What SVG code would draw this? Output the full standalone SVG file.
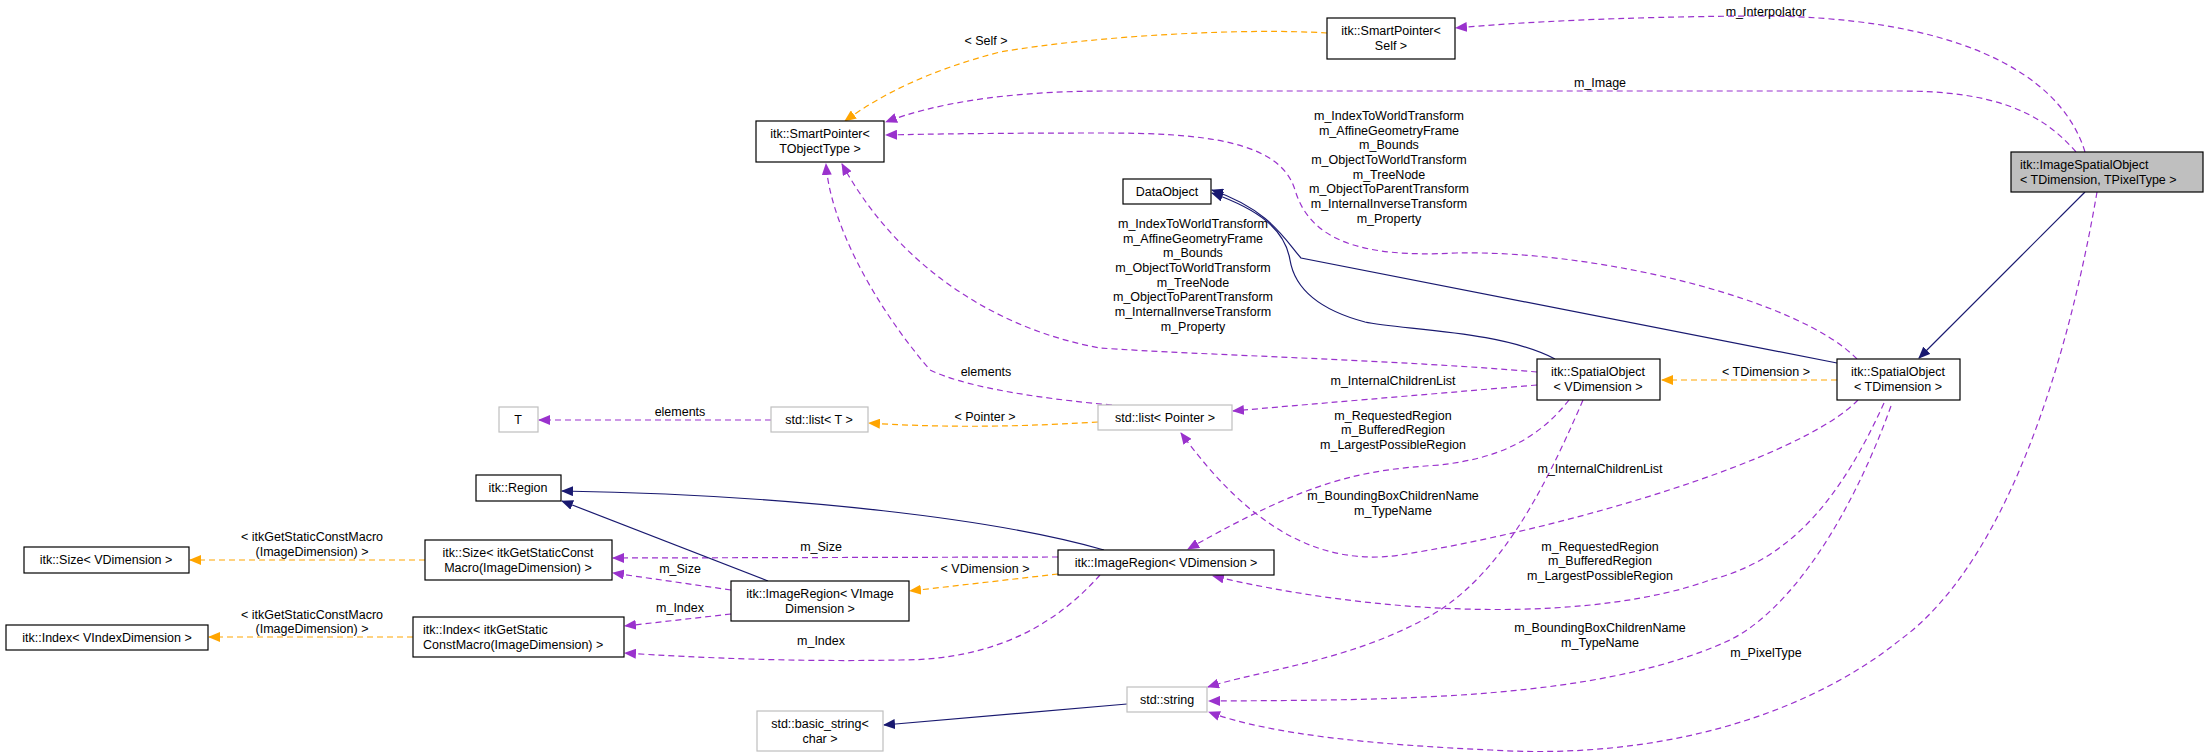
<svg xmlns="http://www.w3.org/2000/svg" width="2208" height="756" viewBox="0 0 2208 756">
<style>
text{font-family:"Liberation Sans",Arial,sans-serif;font-size:12.5px;fill:#000;dominant-baseline:central}
.c{text-anchor:middle}
.b{fill:#fff;stroke:#000;stroke-width:1.2}
.g{fill:#fff;stroke:#bfbfbf;stroke-width:1.2}
.p{fill:none;stroke:#9a32cd;stroke-width:1.2;stroke-dasharray:6,4;marker-end:url(#ap)}
.o{fill:none;stroke:#ffa500;stroke-width:1.2;stroke-dasharray:6,4;marker-end:url(#ao)}
.n{fill:none;stroke:#191970;stroke-width:1.2;marker-end:url(#an)}
</style>
<defs>
<marker id="ap" markerUnits="userSpaceOnUse" markerWidth="12" markerHeight="10" refX="11" refY="5" orient="auto"><path d="M0,0 L12,5 L0,10 z" fill="#9a32cd"/></marker>
<marker id="ao" markerUnits="userSpaceOnUse" markerWidth="12" markerHeight="10" refX="11" refY="5" orient="auto"><path d="M0,0 L12,5 L0,10 z" fill="#ffa500"/></marker>
<marker id="an" markerUnits="userSpaceOnUse" markerWidth="12" markerHeight="10" refX="11" refY="5" orient="auto"><path d="M0,0 L12,5 L0,10 z" fill="#191970"/></marker>
</defs>
<rect width="2208" height="756" fill="#fff"/>
<g id="connectors">
<path class="p" d="M2085,152 C2060,70 1950,15 1750,16 C1620,17 1520,22 1456,28"/>
<path class="p" d="M2076,152 C2040,110 1990,91 1900,91 L1110,91 C1000,91 930,105 886,122"/>
<path class="p" d="M1857,359 C1800,300 1600,250 1456,253 C1360,258 1310,240 1295,190 C1280,140 1200,133 1104,133 C1000,133 930,134 886,135"/>
<path class="p" d="M1537,372 C1400,360 1200,355 1100,348 C1000,330 900,270 842,164"/>
<path class="p" d="M1112,405 C1000,395 950,380 930,370 C870,300 830,220 826,164"/>
<path class="n" d="M1555,359 C1500,330 1400,330 1365,322 C1320,310 1295,290 1290,260 C1285,230 1260,210 1212,193"/>
<path class="n" d="M1837,363 L1301,258 C1285,240 1270,210 1212,190"/>
<path class="p" d="M1537,385 C1420,395 1300,405 1233,411"/>
<path class="o" d="M1837,380 L1662,380"/>
<path class="n" d="M2085,192 L1919,358"/>
<path class="p" d="M2097,192 C2070,350 2010,560 1900,640 C1800,720 1650,760 1491,750 C1380,745 1270,735 1209,712"/>
<path class="p" d="M1569,400 C1530,450 1480,460 1440,465 C1360,470 1310,480 1188,549"/>
<path class="p" d="M1858,400 C1800,460 1560,530 1400,555 C1300,570 1230,500 1181,433"/>
<path class="p" d="M1583,400 C1540,500 1500,570 1440,610 C1360,660 1260,670 1208,687"/>
<path class="p" d="M1884,403 C1840,500 1790,560 1710,580 C1600,620 1400,620 1213,576"/>
<path class="p" d="M1891,406 C1850,520 1790,610 1730,640 C1600,700 1400,700 1209,701"/>
<path class="n" d="M1104,550 C1000,520 800,495 562,491"/>
<path class="p" d="M1058,557 L613,558"/>
<path class="o" d="M1058,574 L910,591"/>
<path class="p" d="M1100,575 C1060,620 1000,660 900,660 C800,662 700,658 625,653"/>
<path class="n" d="M768,581 L562,501"/>
<path class="p" d="M731,590 L613,573"/>
<path class="p" d="M731,614 L625,626"/>
<path class="o" d="M425,560 L190,560"/>
<path class="o" d="M413,637 L209,637"/>
<path class="p" d="M771,420 L539,420"/>
<path class="o" d="M1098,422 C1000,428 930,427 869,423"/>
<path class="n" d="M1127,704 L884,725"/>
<path class="o" d="M1327,33 C1250,28 1100,35 1000,52 C930,70 880,95 845,121"/>
</g>
<g id="labels">
<text class="c" x="986" y="41">&lt; Self &gt;</text>
<text class="c" x="1766" y="12">m_Interpolator</text>
<text class="c" x="1600" y="83">m_Image</text>
<text class="c" x="1389" y="116">m_IndexToWorldTransform</text>
<text class="c" x="1389" y="131">m_AffineGeometryFrame</text>
<text class="c" x="1389" y="145">m_Bounds</text>
<text class="c" x="1389" y="160">m_ObjectToWorldTransform</text>
<text class="c" x="1389" y="175">m_TreeNode</text>
<text class="c" x="1389" y="189">m_ObjectToParentTransform</text>
<text class="c" x="1389" y="204">m_InternalInverseTransform</text>
<text class="c" x="1389" y="219">m_Property</text>
<text class="c" x="1193" y="224">m_IndexToWorldTransform</text>
<text class="c" x="1193" y="239">m_AffineGeometryFrame</text>
<text class="c" x="1193" y="253">m_Bounds</text>
<text class="c" x="1193" y="268">m_ObjectToWorldTransform</text>
<text class="c" x="1193" y="283">m_TreeNode</text>
<text class="c" x="1193" y="297">m_ObjectToParentTransform</text>
<text class="c" x="1193" y="312">m_InternalInverseTransform</text>
<text class="c" x="1193" y="327">m_Property</text>
<text class="c" x="986" y="372">elements</text>
<text class="c" x="1766" y="372">&lt; TDimension &gt;</text>
<text class="c" x="1393" y="381">m_InternalChildrenList</text>
<text class="c" x="1393" y="416">m_RequestedRegion</text>
<text class="c" x="1393" y="430">m_BufferedRegion</text>
<text class="c" x="1393" y="445">m_LargestPossibleRegion</text>
<text class="c" x="1600" y="469">m_InternalChildrenList</text>
<text class="c" x="1393" y="496">m_BoundingBoxChildrenName</text>
<text class="c" x="1393" y="511">m_TypeName</text>
<text class="c" x="1600" y="547">m_RequestedRegion</text>
<text class="c" x="1600" y="561">m_BufferedRegion</text>
<text class="c" x="1600" y="576">m_LargestPossibleRegion</text>
<text class="c" x="1600" y="628">m_BoundingBoxChildrenName</text>
<text class="c" x="1600" y="643">m_TypeName</text>
<text class="c" x="1766" y="653">m_PixelType</text>
<text class="c" x="680" y="412">elements</text>
<text class="c" x="985" y="417">&lt; Pointer &gt;</text>
<text class="c" x="312" y="537">&lt; itkGetStaticConstMacro</text>
<text class="c" x="312" y="552">(ImageDimension) &gt;</text>
<text class="c" x="821" y="547">m_Size</text>
<text class="c" x="680" y="569">m_Size</text>
<text class="c" x="985" y="569">&lt; VDimension &gt;</text>
<text class="c" x="312" y="615">&lt; itkGetStaticConstMacro</text>
<text class="c" x="312" y="629">(ImageDimension) &gt;</text>
<text class="c" x="680" y="608">m_Index</text>
<text class="c" x="821" y="641">m_Index</text>
</g>
<g id="n_iso"><rect x="2011" y="152" width="192" height="40" fill="#bfbfbf" stroke="#000" stroke-width="1.2"/><text x="2020" y="165">itk::ImageSpatialObject</text><text x="2020" y="180">&lt; TDimension, TPixelType &gt;</text></g>
<g id="n_spself"><rect class="b" x="1327" y="18" width="128" height="41"/><text class="c" x="1391" y="31">itk::SmartPointer&lt;</text><text class="c" x="1391" y="46">Self &gt;</text></g>
<g id="n_spobj"><rect class="b" x="756" y="121" width="128" height="41"/><text class="c" x="820" y="134">itk::SmartPointer&lt;</text><text class="c" x="820" y="149">TObjectType &gt;</text></g>
<g id="n_dataobject"><rect class="b" x="1123" y="179" width="88" height="25"/><text class="c" x="1167" y="192">DataObject</text></g>
<g id="n_sov"><rect class="b" x="1537" y="359" width="123" height="41"/><text class="c" x="1598" y="372">itk::SpatialObject</text><text class="c" x="1598" y="387">&lt; VDimension &gt;</text></g>
<g id="n_sot"><rect class="b" x="1837" y="359" width="123" height="41"/><text class="c" x="1898" y="372">itk::SpatialObject</text><text class="c" x="1898" y="387">&lt; TDimension &gt;</text></g>
<g id="n_listp"><rect class="g" x="1098" y="405" width="134" height="25"/><text class="c" x="1165" y="418">std::list&lt; Pointer &gt;</text></g>
<g id="n_t"><rect class="g" x="499" y="407" width="39" height="25"/><text class="c" x="518" y="420">T</text></g>
<g id="n_listt"><rect class="g" x="771" y="407" width="97" height="25"/><text class="c" x="819" y="420">std::list&lt; T &gt;</text></g>
<g id="n_region"><rect class="b" x="476" y="475" width="85" height="26"/><text class="c" x="518" y="488">itk::Region</text></g>
<g id="n_sizev"><rect class="b" x="24" y="547" width="165" height="26"/><text class="c" x="106" y="560">itk::Size&lt; VDimension &gt;</text></g>
<g id="n_sizem"><rect class="b" x="425" y="540" width="187" height="40"/><text class="c" x="518" y="553">itk::Size&lt; itkGetStaticConst</text><text class="c" x="518" y="568">Macro(ImageDimension) &gt;</text></g>
<g id="n_irvi"><rect class="b" x="731" y="581" width="178" height="40"/><text class="c" x="820" y="594">itk::ImageRegion&lt; VImage</text><text class="c" x="820" y="609">Dimension &gt;</text></g>
<g id="n_irv"><rect class="b" x="1058" y="550" width="216" height="25"/><text class="c" x="1166" y="563">itk::ImageRegion&lt; VDimension &gt;</text></g>
<g id="n_indexv"><rect class="b" x="6" y="625" width="202" height="25"/><text class="c" x="107" y="638">itk::Index&lt; VIndexDimension &gt;</text></g>
<g id="n_indexm"><rect class="b" x="413" y="617" width="211" height="40"/><text x="423" y="630">itk::Index&lt; itkGetStatic</text><text x="423" y="645">ConstMacro(ImageDimension) &gt;</text></g>
<g id="n_string"><rect class="g" x="1127" y="687" width="80" height="25"/><text class="c" x="1167" y="700">std::string</text></g>
<g id="n_basic"><rect class="g" x="757" y="711" width="126" height="40"/><text class="c" x="820" y="724">std::basic_string&lt;</text><text class="c" x="820" y="739">char &gt;</text></g>
</svg>
